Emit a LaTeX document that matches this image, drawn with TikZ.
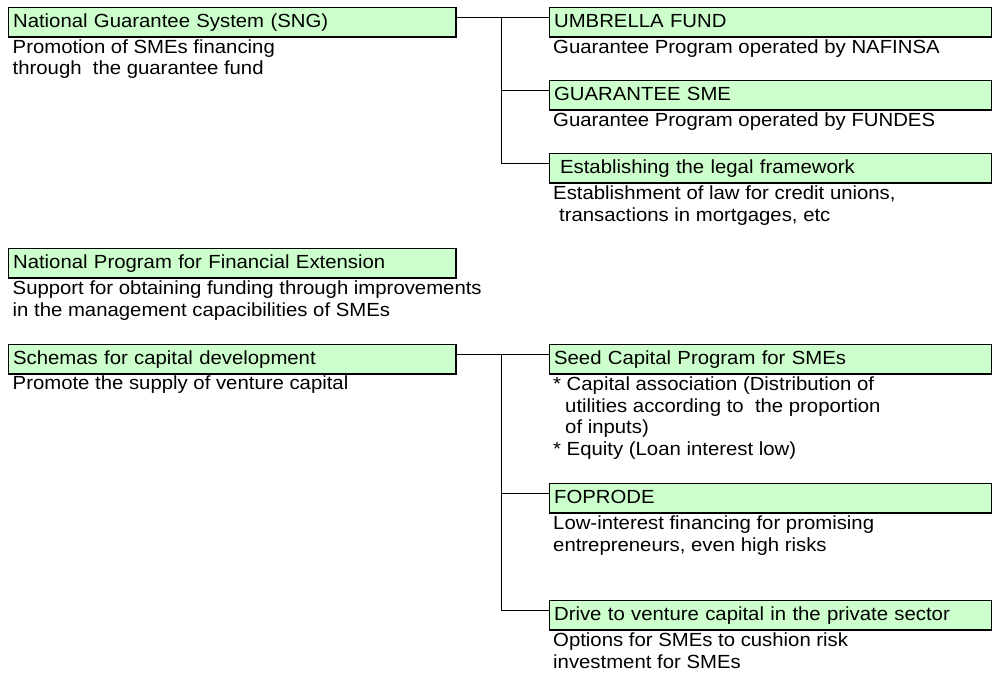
\documentclass[tikz,border=0pt]{standalone}
\usepackage{fontspec}
\setmainfont{Liberation Sans}[FakeStretch=1.07]
\usepackage{xcolor}
\usepackage{tikz}
\definecolor{boxgreen}{HTML}{CCFFCC}

\begin{document}
\begin{tikzpicture}[x=1pt,y=-1pt,
  font=\fontsize{19}{21.5}\selectfont,
  prog/.style={draw=black,line width=1.2pt,fill=boxgreen,anchor=north west,
    minimum height=29pt,inner xsep=4.5pt,inner ysep=0pt,align=left,
    text height=15pt,text depth=3.4pt},
  leftprog/.style={prog,text width=438pt},
  rightprog/.style={prog,text width=433pt},
  note/.style={anchor=base west,inner sep=0pt,align=left},
  link/.style={draw=black,line width=0.9pt},
  shade/.style={draw=black,line width=2.4pt}]
\useasboundingbox (0,0) rectangle (992,672);
% first group: guarantee system
% (a note sits on the baseline of its last line)
\node[leftprog] (sng) at (8,7) {National Guarantee System (SNG)};
\node[note] (sngtxt) at (12.5,74.5) {Promotion of SMEs financing\\through~~the guarantee fund};
\node[rightprog] (umb) at (549,7) {UMBRELLA FUND};
\node[note] (umbtxt) at (553,53) {Guarantee Program operated by NAFINSA};
\node[rightprog] (gsme) at (549,80) {GUARANTEE SME};
\node[note] (gsmetxt) at (553,126) {Guarantee Program operated by FUNDES};
\node[rightprog] (legal) at (549,153) {\hspace*{6pt}Establishing the legal framework};
\node[note] (legaltxt) at (553,221) {Establishment of law for credit unions,\\\hspace*{6pt}transactions in mortgages, etc};
% second group
\node[leftprog] (pnef) at (8,248) {National Program for Financial Extension};
\node[note] (pneftxt) at (12.5,316) {Support for obtaining funding through improvements\\in the management capacibilities of SMEs};
% third group: capital
\node[leftprog] (scd) at (8,344) {Schemas for capital development};
\node[note] (scdtxt) at (12.5,389) {Promote the supply of venture capital};
\node[rightprog] (seed) at (549,344) {Seed Capital Program for SMEs};
\node[note] (seedtxt) at (553,455) {* Capital association (Distribution of\\\hspace*{12pt}utilities according to~~the proportion\\\hspace*{12pt}of inputs)\\* Equity (Loan interest low)};
\node[rightprog] (fop) at (549,483) {FOPRODE};
\node[note] (foptxt) at (553,551) {Low-interest financing for promising\\entrepreneurs, even high risks};
\node[rightprog] (drive) at (549,600) {Drive to venture capital in the private sector};
\node[note] (drivetxt) at (553,668) {Options for SMEs to cushion risk\\investment for SMEs};
% heavier bottom and right edges
\foreach \n in {sng,umb,gsme,legal,pnef,scd,seed,fop,drive}
  \draw[shade] (\n.north east) |- (\n.south west);
% connectors
\coordinate (topbus) at (501,17);
\coordinate (lowbus) at (501,354);
\draw[link] ([yshift=4.5pt]sng.east) -- ([yshift=4.5pt]umb.west);
\draw[link] (topbus) |- ([yshift=4.5pt]gsme.west);
\draw[link] (topbus) |- ([yshift=4.5pt]legal.west);
\draw[link] ([yshift=4.5pt]scd.east) -- ([yshift=4.5pt]seed.west);
\draw[link] (lowbus) |- ([yshift=4.5pt]fop.west);
\draw[link] (lowbus) |- ([yshift=4.5pt]drive.west);
\end{tikzpicture}
\end{document}
